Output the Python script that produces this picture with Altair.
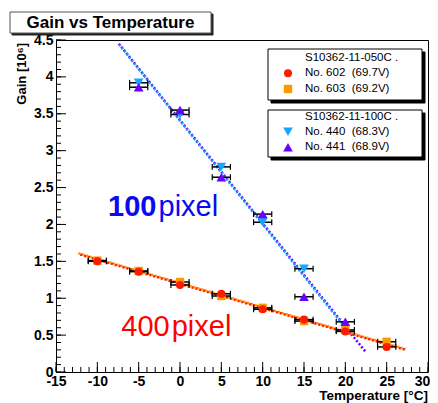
import altair as alt
import pandas as pd

# ---------------- data ----------------
temps_400 = [-10, -5, 0, 5, 10, 15, 20, 25]
gain_602 = [1.50, 1.36, 1.18, 1.06, 0.85, 0.71, 0.55, 0.34]
gain_603 = [1.51, 1.37, 1.22, 1.03, 0.87, 0.69, 0.57, 0.41]
temps_440 = [-5, 0, 5, 10, 15]
gain_440 = [3.92, 3.49, 2.78, 2.03, 1.40]
temps_441 = [-5, 0, 5, 10, 15, 20]
gain_441 = [3.86, 3.55, 2.64, 2.14, 1.02, 0.68]
temp_err = 1.1

fit_400_t = [-12.3, 27.3]
fit_602_g = [1.60, 0.30]
fit_603_g = [1.61, 0.31]
fit_440_t = [-7.5, 20.2]
fit_440_g = [4.46, 0.57]
fit_441_t = [-7.4, 22.4]
fit_441_g = [4.45, 0.28]

x_major = [-15, -10, -5, 0, 5, 10, 15, 20, 25, 30]
y_major = [0, 0.5, 1, 1.5, 2, 2.5, 3, 3.5, 4, 4.5]
x_minor = list(range(-15, 31))
y_minor = [round(i * 0.1, 1) for i in range(46)]

legend_head = ["S10362-11-050C .", "S10362-11-100C ."]
legend_labels = ["No. 602\u00a0\u00a0(69.7V)", "No. 603\u00a0\u00a0(69.2V)",
                 "No. 440\u00a0\u00a0(68.3V)", "No. 441\u00a0\u00a0(68.9V)"]

# ---------------- styling ----------------
FONT = "Liberation Sans"
C602, C603, C440, C441 = "#ff1a00", "#ff9900", "#17a6ff", "#6a00ff"

xs = alt.Scale(domain=[-15, 30], nice=False, zero=False)
ys = alt.Scale(domain=[0, 4.5], nice=False, zero=False)
xaxis = alt.Axis(values=x_major, labelExpr="datum.value + ''", ticks=False, domain=False,
                 grid=False, title=None, labelFont=FONT, labelFontWeight="bold",
                 labelFontSize=14, labelColor="black", labelPadding=2,
                 labelOffset={"condition": {"test": "datum.value == 30", "value": -6}, "value": 0},
                 labelOverlap=False, labelBound=False, labelFlush=False)
yaxis = alt.Axis(values=y_major, labelExpr="datum.value + ''", ticks=False, domain=False,
                 grid=False, title=None, labelFont=FONT, labelFontWeight="bold",
                 labelFontSize=14, labelColor="black", labelPadding=3,
                 labelOverlap=False, labelBound=False, labelFlush=False)


def X(f):
    return alt.X(f, type="quantitative", scale=xs, axis=xaxis)


def Y(f):
    return alt.Y(f, type="quantitative", scale=ys, axis=yaxis)


def pts(t, g):
    return pd.DataFrame({"T": t, "G": g})


one = pd.DataFrame({"a": [0]})

layers = []

# ticks (inside the frame, ROOT style)
layers.append(alt.Chart(pd.DataFrame({"v": y_minor})).mark_rule(color="black", strokeWidth=1)
              .encode(y=Y("v"), x=alt.value(0), x2=alt.value(5)))
layers.append(alt.Chart(pd.DataFrame({"v": y_major})).mark_rule(color="black", strokeWidth=1)
              .encode(y=Y("v"), x=alt.value(0), x2=alt.value(10)))
layers.append(alt.Chart(pd.DataFrame({"v": x_minor})).mark_rule(color="black", strokeWidth=1)
              .encode(x=X("v"), y=alt.value(332), y2=alt.value(327)))
layers.append(alt.Chart(pd.DataFrame({"v": x_major})).mark_rule(color="black", strokeWidth=1)
              .encode(x=X("v"), y=alt.value(332), y2=alt.value(322)))

# fit lines (dotted, two colours interleaved)
def fit(t, g, color, offset):
    return alt.Chart(pts(t, g)).mark_line(color=color, strokeWidth=2.6, strokeDash=[2, 2],
                                          strokeDashOffset=offset).encode(x=X("T"), y=Y("G"))


layers += [fit(fit_441_t, fit_441_g, C441, 0), fit(fit_440_t, fit_440_g, C440, 2),
           fit(fit_400_t, fit_603_g, C603, 0), fit(fit_400_t, fit_602_g, C602, 2)]

# error bars + markers
def series(t, g, color, shape, size):
    base = alt.Chart(pts(t, g)).transform_calculate(
        lo=f"datum.T - {temp_err}", hi=f"datum.T + {temp_err}",
        g1="datum.G - 0.04", g2="datum.G + 0.04")
    bar = base.mark_rule(color="black", strokeWidth=1.5).encode(x=X("lo"), x2="hi", y=Y("G"))
    cap1 = base.mark_rule(color="black", strokeWidth=1.2).encode(x=X("lo"), y=Y("g1"), y2="g2")
    cap2 = base.mark_rule(color="black", strokeWidth=1.2).encode(x=X("hi"), y=Y("g1"), y2="g2")
    mk = base.mark_point(filled=True, opacity=1, shape=shape, size=size, color=color).encode(
        x=X("T"), y=Y("G"))
    return [bar, cap1, cap2, mk]


layers += series(temps_400, gain_603, C603, "square", 70)
layers += series(temps_400, gain_602, C602, "circle", 65)
layers += series(temps_440, gain_440, C440, "triangle-down", 95)
layers += series(temps_441, gain_441, C441, "triangle-up", 95)

# big annotations
def ann(text, x, y, color, weight, align):
    return alt.Chart(one).mark_text(text=text, font=FONT, fontSize=29, fontWeight=weight,
                                    color=color, align=align, baseline="alphabetic").encode(
        x=alt.datum(x, scale=xs, axis=xaxis), y=alt.datum(y, scale=ys, axis=yaxis))


layers += [ann("100", -2.85, 2.11, "#0a0af0", "bold", "right"),
           ann("pixel", -2.6, 2.11, "#0a0af0", "normal", "left"),
           ann("400", -1.25, 0.49, "#ff0000", "normal", "right"),
           ann("pixel", -1.0, 0.49, "#ff0000", "normal", "left")]

# title box
def box(x1, x2, y1, y2, fill, stroke, sw):
    return alt.Chart(one).mark_rect(fill=fill, stroke=stroke, strokeWidth=sw).encode(
        x=alt.value(x1), x2=alt.value(x2), y=alt.value(y1), y2=alt.value(y2))


def label(text, x, y, size, weight="normal", align="left", angle=0, baseline="middle"):
    return alt.Chart(one).mark_text(text=text, font=FONT, fontSize=size, fontWeight=weight,
                                    color="black", align=align, baseline=baseline,
                                    angle=angle).encode(x=alt.value(x), y=alt.value(y))


layers += [box(-44, 157, -26, -5, "#222", "#222", 1),
           box(-46, 155, -28, -7, "white", "#555", 1),
           label("Gain vs Temperature", 54.5, -17.5, 17, "bold", "center")]

# legends
layers += [box(215, 369, 12, 63, "black", "black", 1),
           box(212, 366, 9, 60, "white", "black", 1),
           box(215, 369, 73, 120, "black", "black", 1),
           box(212, 366, 70, 117, "white", "black", 1)]
layers += [label(legend_head[0], 249, 18.3, 11.5),
           label(legend_labels[0], 249, 33.3, 11.5),
           label(legend_labels[1], 249, 49, 11.5),
           label(legend_head[1], 249, 77.3, 11.5),
           label(legend_labels[2], 249, 91.7, 11.5),
           label(legend_labels[3], 249, 107.3, 11.5)]


def lmark(y, color, shape, size):
    return alt.Chart(one).mark_point(filled=True, opacity=1, shape=shape, size=size,
                                     color=color).encode(x=alt.value(232), y=alt.value(y))


layers += [lmark(33.3, C602, "circle", 65), lmark(49, C603, "square", 70),
           lmark(91.7, C440, "triangle-down", 95), lmark(107.3, C441, "triangle-up", 95)]

# axis titles
layers += [label("Gain [10\u2076]", -34, 3, 13, "bold", "right", 270),
           label("Temperature [\u00b0C]", 372, 360, 13.5, "bold", "right", 0, "alphabetic")]

chart = alt.layer(*layers).properties(
    width=372, height=332,
    autosize=alt.AutoSizeParams(type="none"),
    padding={"left": 48, "top": 32, "right": 2, "bottom": 31},
    background="white",
).configure_view(stroke="black", strokeWidth=1)

chart.save("out.html", embed_options={"renderer": "svg", "actions": False})
